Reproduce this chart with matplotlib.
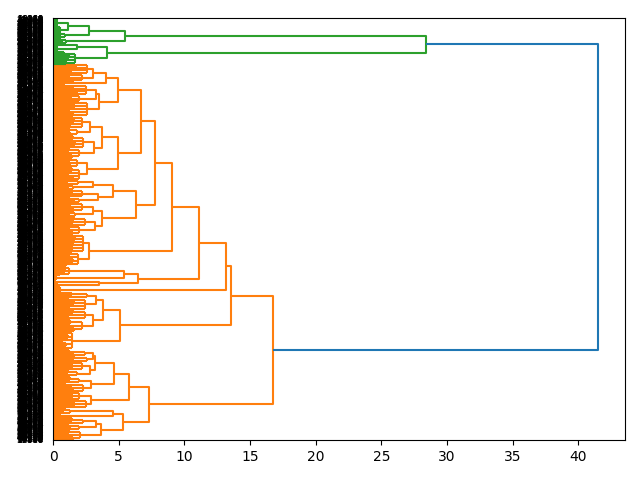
import matplotlib
matplotlib.use("Agg")
import matplotlib.pyplot as plt
from matplotlib.collections import LineCollection


# leaf clumps, listed from the top of the plot to the bottom
CLUMP_NAMES = ["g1", "g2", "g3", "g4", "g5", "g6", "g7",
               "o1", "o2", "o3", "o4", "o5", "o6", "o7", "o8", "o9", "o10", "o11a", "o11b",
               "o12", "o13", "o14", "o15", "o16", "o17", "o18", "o19", "o20", "o21",
               "o22", "o23", "o24", "o25", "o26", "o27", "o28", "o29", "o30", "o31",
               "o32", "o33", "o34", "o35", "o36", "o37", "o38", "o39", "o40", "o41",
               "o42", "o43", "o44"]
CLUMP_SIZES = [27, 18, 15, 18, 6, 18, 36,
               30, 21, 12, 30, 21, 42, 36, 24, 36, 30, 30, 36,
               15, 15, 21, 18, 24, 18, 27, 24, 54, 42,
               27, 15, 9, 12, 18, 15, 36, 30, 33, 57,
               18, 18, 24, 21, 21, 24, 24, 24, 18, 12,
               18, 18, 30]
CLUMP_HEIGHTS = [0.3, 0.5, 0.9, 1.0, 0.15, 0.3, 1.7,
                 2.6, 2.2, 1.0, 2.5, 2.0, 2.6, 2.2, 1.8, 2.3, 2.0, 1.8, 2.0,
                 1.9, 1.5, 2.2, 2.0, 2.2, 1.7, 2.4, 2.0, 2.3, 1.9,
                 1.2, 0.2, 0.1, 0.3, 0.5, 2.56, 2.44, 2.4, 2.2, 1.4,
                 2.4, 2.6, 2.2, 1.8, 2.0, 2.3, 2.0, 2.5, 1.3, 0.05,
                 2.3, 2.0, 2.06]
CLUMP_PROFILES = [[], [], [0.4, 0.6], [0.5, 0.7], [], [], [0.8, 1.2, 0.6, 1.0],
                  [1.1, 1.8, 0.9, 1.4], [1.3, 0.8, 1.6], [0.6], [0.9, 1.6, 1.2, 1.9],
                  [1.4, 0.9, 1.2], [1.0, 1.7, 1.3, 0.8, 1.5], [1.2, 1.6, 0.9, 1.3],
                  [0.8, 1.3], [1.5, 1.0, 1.7, 1.1], [1.2, 0.9, 1.4], [1.0, 1.3, 0.7],
                  [1.4, 0.9, 1.1, 1.5],
                  [1.1, 0.8], [0.9, 1.2], [1.5, 1.0, 1.3], [1.2, 1.6], [1.3, 0.9, 1.6],
                  [1.0, 1.2], [1.6, 1.1, 1.4], [1.2, 0.8, 1.5],
                  [1.2, 1.7, 0.9, 1.5, 1.1, 1.4], [1.3, 0.8, 1.5, 1.0],
                  [0.7, 0.9, 0.5], [], [], [], [], [1.4, 1.0], [1.1, 1.6, 1.3, 0.8],
                  [1.5, 1.0, 1.2], [1.3, 0.9, 1.6], [0.9, 1.1, 0.7, 1.0, 0.8],
                  [1.2, 1.5], [1.6, 1.1], [1.2, 1.5, 0.9], [1.1, 0.8], [1.3, 0.9],
                  [1.0, 1.4, 1.6], [1.2, 1.5, 0.9], [1.3, 1.7, 1.0], [0.8, 0.6], [],
                  [1.4, 1.0], [1.1, 1.3], [1.2, 0.9, 1.5]]

# merges above the clumps: [height, upper child, lower child]
GREEN_TREE = [28.4,
              [5.49, [2.74, [1.1, "g1", "g2"], "g3"], "g4"],
              [4.14, [1.85, "g5", "g6"], "g7"]]
ORANGE_UPPER = [13.56,
                [13.2,
                 [11.1,
                  [9.07,
                   [7.77,
                    [6.68,
                     [4.95, [4.04, [3.0, "o1", "o2"], "o3"], [3.5, [3.3, "o4", "o5"], "o6"]],
                     [4.93, [3.7, [2.8, "o7", "o8"], [3.1, "o9", "o10"]], [2.56, "o11a", "o11b"]]],
                    [6.3,
                     [4.55, [3.0, "o12", "o13"], [3.4, "o14", "o15"]],
                     [3.7, [3.0, "o16", "o17"], [3.2, "o18", "o19"]]]],
                   [2.74, "o20", "o21"]],
                  [6.45, [5.43, "o22", "o23"], [3.53, "o24", "o25"]]],
                 "o26"],
                [5.1, [3.83, [3.3, "o27", "o28"], [3.07, "o29", "o30"]], "o31"]]
ORANGE_LOWER = [7.3,
                [5.8,
                 [4.65, [3.2, [3.07, "o32", "o33"], [2.8, "o34", "o35"]], [2.9, "o36", "o37"]],
                 [2.9, "o38", "o39"]],
                [5.33, [4.55, "o40", "o41"], [3.66, [3.28, "o42", "o43"], "o44"]]]
ORANGE_HEIGHT = 16.76
ROOT_HEIGHT = 41.5

N_LEAVES = sum(CLUMP_SIZES)
clumps = {name: (size, h, prof) for name, size, h, prof in
          zip(CLUMP_NAMES, CLUMP_SIZES, CLUMP_HEIGHTS, CLUMP_PROFILES)}

segments = {"C0": [], "C1": [], "C2": []}
cursor = [0]


def leaf_y(i):
    # first leaf in the list sits at the top of the axis
    return 10 * (N_LEAVES - i) - 5


def draw_clump(name, color):
    size, h, prof = clumps[name]
    segs = segments[color]
    start = cursor[0]
    cursor[0] += size
    parts = prof if prof else [h]
    k = len(parts)
    mids = []
    for j, sh in enumerate(parts):
        a = start + size * j // k
        b = start + size * (j + 1) // k
        ys = [leaf_y(i) for i in range(a, b)]
        for y in ys:
            segs.append([(0, y), (sh, y)])
        segs.append([(sh, ys[0]), (sh, ys[-1])])
        mids.append((sh, (ys[0] + ys[-1]) / 2))
    if not prof:
        return mids[0][1], h
    for sh, y in mids:
        segs.append([(sh, y), (h, y)])
    segs.append([(h, mids[0][1]), (h, mids[-1][1])])
    return (mids[0][1] + mids[-1][1]) / 2, h


def draw(node, color):
    if isinstance(node, str):
        return draw_clump(node, color)
    h, upper, lower = node
    ya, ha = draw(upper, color)
    yb, hb = draw(lower, color)
    segments[color].append([(ha, ya), (h, ya), (h, yb), (hb, yb)])
    return (ya + yb) / 2, h


yg, hg = draw(GREEN_TREE, "C2")
yo, ho = draw([ORANGE_HEIGHT, ORANGE_UPPER, ORANGE_LOWER], "C1")
segments["C0"].append([(hg, yg), (ROOT_HEIGHT, yg), (ROOT_HEIGHT, yo), (ho, yo)])

# sample ids of the leaves, in dendrogram order
leaf_labels = [str(10000 + (i * 7919 + 311) % 90000) for i in range(N_LEAVES)]

fig, ax = plt.subplots(figsize=(6.4, 4.8), dpi=100)
for color in ["C1", "C2", "C0"]:
    ax.add_collection(LineCollection(segments[color], colors=color, linewidths=1.5))

ax.set_xlim(0, ROOT_HEIGHT * 1.05)
ax.set_ylim(0, N_LEAVES * 10)
ax.set_yticks([leaf_y(i) for i in range(N_LEAVES)])
ax.set_yticklabels(leaf_labels, size=6)
for line in ax.get_yticklines():
    line.set_visible(False)

fig.subplots_adjust(left=0.083, right=0.977, top=0.9625, bottom=0.083)
fig.savefig("out.png", dpi=100)
